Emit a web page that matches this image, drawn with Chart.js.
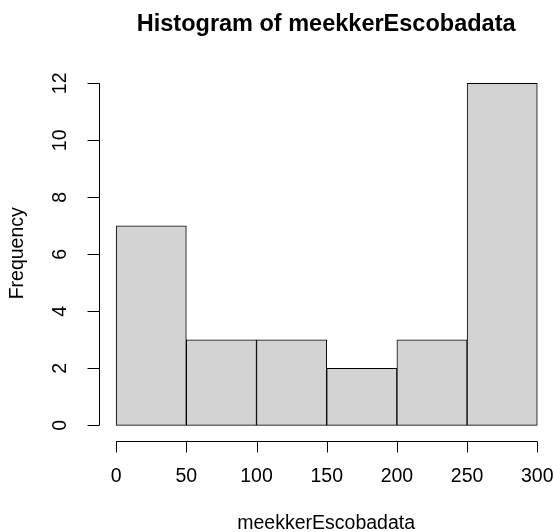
<!DOCTYPE html>
<html>
<head>
<meta charset="utf-8">
<script src="https://cdn.jsdelivr.net/npm/chart.js@4/dist/chart.umd.min.js"></script>
<style>
  html, body { margin: 0; padding: 0; background: #fff; }
  #wrap { width: 553px; height: 532px; position: relative; }
</style>
</head>
<body>
<div id="wrap"><canvas id="c" width="553" height="532"></canvas></div>
<script>
// ---- data ----
const chartTitle = "Histogram of meekkerEscobadata";
const xTitle = "meekkerEscobadata";
const yTitle = "Frequency";
const binEdges = [0, 50, 100, 150, 200, 250, 300];
const counts = [7, 3, 3, 2, 3, 12];
const xTicks = [0, 50, 100, 150, 200, 250, 300];
const yTicks = [0, 2, 4, 6, 8, 10, 12];

const FONT = "'Liberation Sans', Arial, Helvetica, sans-serif";

const points = counts.map((c, i) => ({ x: (binEdges[i] + binEdges[i + 1]) / 2, y: c }));

const rAxes = {
  id: 'rAxes',
  afterDraw(chart) {
    const ctx = chart.ctx;
    const xs = chart.scales.x, ys = chart.scales.y;
    const area = chart.chartArea;
    ctx.save();
    ctx.strokeStyle = '#000';
    ctx.fillStyle = '#000';
    ctx.lineWidth = 1;

    // y axis
    const yl = Math.round(area.left) + 0.5;
    ctx.beginPath();
    ctx.moveTo(yl, ys.getPixelForValue(yTicks[0]));
    ctx.lineTo(yl, ys.getPixelForValue(yTicks[yTicks.length - 1]));
    yTicks.forEach(v => {
      const py = Math.round(ys.getPixelForValue(v)) + 0.5;
      ctx.moveTo(yl, py);
      ctx.lineTo(yl - 12, py);
    });
    ctx.stroke();
    ctx.font = `19.5px ${FONT}`;
    ctx.textAlign = 'center';
    ctx.textBaseline = 'middle';
    yTicks.forEach(v => {
      const py = ys.getPixelForValue(v);
      ctx.save();
      ctx.translate(yl - 39, py);
      ctx.rotate(-Math.PI / 2);
      ctx.fillText(String(v), 0, 0);
      ctx.restore();
    });

    // x axis
    const xb = Math.round(area.bottom) + 0.5;
    ctx.beginPath();
    ctx.moveTo(xs.getPixelForValue(xTicks[0]), xb);
    ctx.lineTo(xs.getPixelForValue(xTicks[xTicks.length - 1]), xb);
    xTicks.forEach(v => {
      const px = Math.round(xs.getPixelForValue(v)) + 0.5;
      ctx.moveTo(px, xb);
      ctx.lineTo(px, xb + 11);
    });
    ctx.stroke();
    xTicks.forEach(v => {
      ctx.fillText(String(v), xs.getPixelForValue(v), xb + 35);
    });

    // axis titles
    const cx = (area.left + area.right) / 2;
    ctx.fillText(xTitle, cx, 524);
    ctx.save();
    ctx.translate(18, (area.top + area.bottom) / 2 - 2);
    ctx.rotate(-Math.PI / 2);
    ctx.fillText(yTitle, 0, 0);
    ctx.restore();

    // main title
    ctx.font = `bold 23.5px ${FONT}`;
    ctx.textBaseline = 'alphabetic';
    ctx.fillText(chartTitle, cx, 30.5);
    ctx.restore();
  }
};

new Chart(document.getElementById('c'), {
  type: 'bar',
  data: {
    datasets: [{
      data: points,
      backgroundColor: '#d3d3d3',
      borderColor: '#000',
      borderWidth: 1,
      borderSkipped: false,
      barPercentage: 1,
      categoryPercentage: 1
    }]
  },
  options: {
    responsive: false,
    animation: false,
    devicePixelRatio: 1,
    layout: { padding: { left: 99.3, right: 0, top: 69.6, bottom: 91 } },
    plugins: { legend: { display: false }, title: { display: false }, tooltip: { enabled: false } },
    scales: {
      x: {
        type: 'linear',
        display: false,
        offset: false,
        grid: { offset: false },
        min: -12,
        max: 311.2,
        afterBuildTicks: (s) => { s.ticks = xTicks.map(v => ({ value: v })); }
      },
      y: {
        type: 'linear',
        display: false,
        min: -0.55,
        max: 12.48,
        afterBuildTicks: (s) => { s.ticks = yTicks.map(v => ({ value: v })); }
      }
    }
  },
  plugins: [rAxes]
});
</script>
</body>
</html>
